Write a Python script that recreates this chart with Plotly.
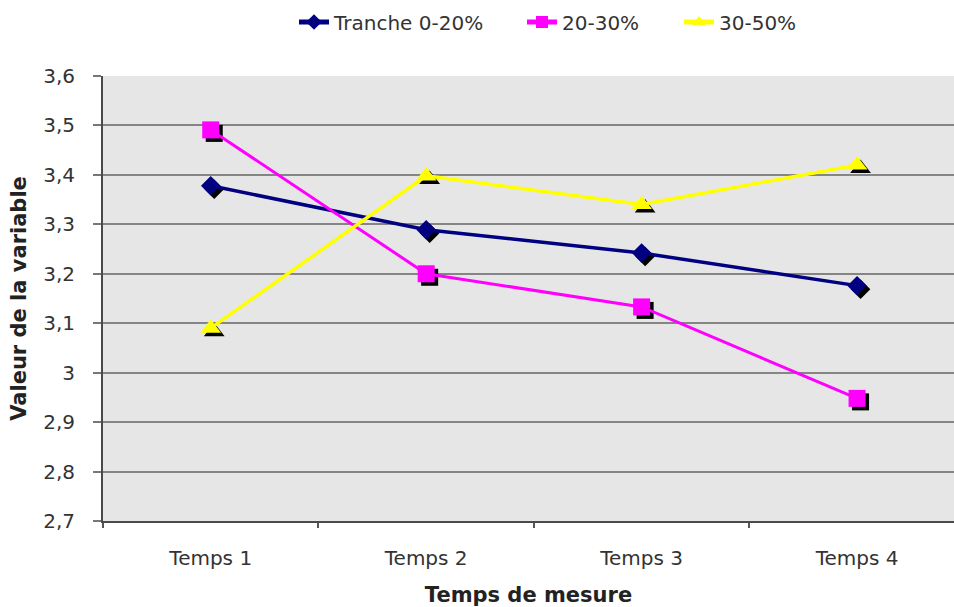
import plotly.graph_objects as go

categories = ["Temps 1", "Temps 2", "Temps 3", "Temps 4"]
tranche_0_20 = [3.378, 3.289, 3.242, 3.176]
tranche_20_30 = [3.491, 3.200, 3.133, 2.948]
tranche_30_50 = [3.090, 3.398, 3.340, 3.420]
series_names = ["Tranche 0-20%", "20-30%", "30-50%"]
y_tick_vals = [2.7, 2.8, 2.9, 3.0, 3.1, 3.2, 3.3, 3.4, 3.5, 3.6]
y_tick_text = ["2,7", "2,8", "2,9", "3", "3,1", "3,2", "3,3", "3,4", "3,5", "3,6"]

W, H = 954, 607
ML, MR, MT, MB = 103, 0, 76, H - 521
plot_w = W - ML - MR
plot_h = H - MT - MB

x_range = [-0.5, 3.45]
y_range = [2.7, 3.6]
kx = (x_range[1] - x_range[0]) / plot_w
ky = (y_range[1] - y_range[0]) / plot_h
sh = 3.5  # shadow offset in px
x_range_sh = [x_range[0] - sh * kx, x_range[1] - sh * kx]
y_range_sh = [y_range[0] + sh * ky, y_range[1] + sh * ky]

styles = [
    dict(color="#000080", symbol="diamond", size=15, width=3.5),
    dict(color="#ff00ff", symbol="square", size=17, width=3),
    dict(color="#ffff00", symbol="triangle-up", size=18, width=3.5),
]
data = [tranche_0_20, tranche_20_30, tranche_30_50]
legend_ids = ["legend", "legend2", "legend3"]
legend_text_x = [336, 564, 721]  # x where each legend text starts

fig = go.Figure()
for vals, st in zip(data, styles):
    fig.add_trace(go.Scatter(
        x=categories, y=vals, mode="markers", showlegend=False, hoverinfo="skip",
        marker=dict(symbol=st["symbol"], size=st["size"], color="black",
                    line=dict(width=0)),
        xaxis="x", yaxis="y"))
for vals, st, name, lg in zip(data, styles, series_names, legend_ids):
    fig.add_trace(go.Scatter(
        x=categories, y=vals, mode="lines+markers", name=name, legend=lg,
        line=dict(color=st["color"], width=st["width"]),
        marker=dict(symbol=st["symbol"], size=st["size"], color=st["color"],
                    line=dict(width=0)),
        xaxis="x2", yaxis="y2"))

font_family = "DejaVu Sans, Verdana, sans-serif"
legend_common = dict(orientation="h", xanchor="left", yanchor="middle",
                     xref="container", yref="container",
                     y=1 - 22 / H, font=dict(size=20, color="#333333"),
                     itemsizing="constant", bgcolor="rgba(0,0,0,0)", borderwidth=0)
legends = {}
for lg, tx in zip(legend_ids, legend_text_x):
    legends[lg] = dict(legend_common, x=(tx - 42) / W)

fig.update_layout(
    width=W, height=H,
    margin=dict(l=ML, r=MR, t=MT, b=MB, autoexpand=False),
    paper_bgcolor="white",
    plot_bgcolor="#e6e6e6",
    font=dict(family=font_family, size=20, color="#333333"),
    showlegend=True,
    xaxis=dict(type="category", range=x_range_sh, visible=False, fixedrange=True,
               automargin=False),
    yaxis=dict(range=y_range_sh, visible=False, fixedrange=True, automargin=False),
    xaxis2=dict(type="category", range=x_range, overlaying="x", anchor="y2", side="bottom",
                automargin=False,
                showgrid=False, showline=True, linecolor="#4a4a4a", linewidth=2,
                ticks="outside", tickson="boundaries", ticklen=5, tickwidth=1.5,
                tickcolor="#555555", tickfont=dict(size=20, color="#333333"),
                ticklabelstandoff=18,
                title=dict(text="<b>Temps de mesure</b>", font=dict(size=21, color="#222222"),
                           standoff=19),
                zeroline=False),
    yaxis2=dict(range=y_range, overlaying="y", anchor="x2", side="left",
                automargin=False,
                tickvals=y_tick_vals, ticktext=y_tick_text,
                showgrid=True, gridcolor="#858585", gridwidth=2,
                showline=True, linecolor="#4a4a4a", linewidth=2,
                ticks="outside", ticklen=8, tickwidth=2, tickcolor="#777777",
                ticklabelstandoff=14,
                tickfont=dict(size=20, color="#333333"),
                title=dict(text="<b>Valeur de la variable</b>", font=dict(size=21, color="#222222"),
                           standoff=11),
                zeroline=False),
    **legends,
)
fig.write_html("out.html",
               config={"displayModeBar": False},
               post_script="document.body.style.margin='0';document.body.style.overflow='hidden';")
